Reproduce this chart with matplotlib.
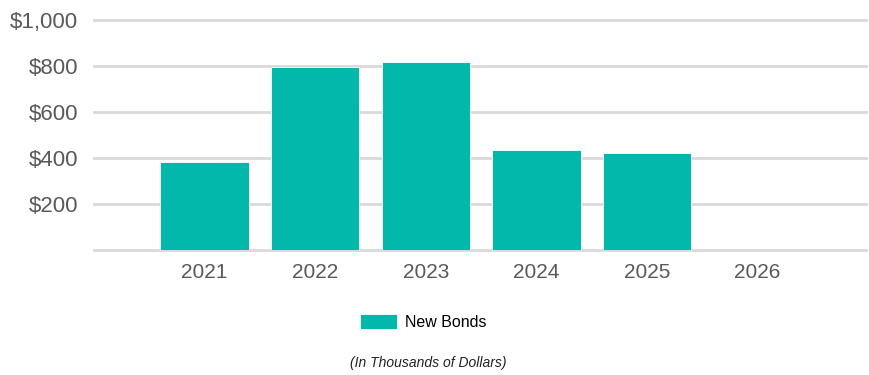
"""New bonds issued per year, bar chart."""

import matplotlib.pyplot as plt
from matplotlib.ticker import FuncFormatter

years = ["2021", "2022", "2023", "2024", "2025", "2026"]
new_bonds = [384, 796, 817, 433, 423, 0]
y_ticks = [0, 200, 400, 600, 800, 1000]

BAR = "#02B8AB"
GRID = "#D9D9D9"
TEXT = "#595959"

plt.rcParams["font.family"] = ["Liberation Sans", "DejaVu Sans"]


def money(value, pos):
    """Format tick values as $1,000 and skip the zero line."""
    if value == 0:
        return ""
    return f"${int(value):,}"


fig = plt.figure(figsize=(8.69, 3.75), dpi=100)
ax = fig.add_axes([94 / 869, 1 - 250 / 375, (866 - 94) / 869, 230 / 375])

x = range(len(years))
ax.bar(x, new_bonds, width=0.8, color=BAR, edgecolor="white", linewidth=0.6,
       label="New Bonds", zorder=3)

ax.set_xlim(-1.0, 5.98)
ax.set_ylim(0, 1000)
ax.set_yticks(y_ticks)
ax.yaxis.set_major_formatter(FuncFormatter(money))
ax.set_xticks(list(x))
ax.set_xticklabels(years)

ax.grid(True, axis="y", color=GRID, linewidth=2, zorder=0)
for gl in ax.get_ygridlines():
    gl.set_clip_on(False)
ax.set_axisbelow(True)
for side in ax.spines.values():
    side.set_visible(False)
ax.tick_params(axis="both", length=0, colors=TEXT)
ax.tick_params(axis="y", labelsize=16, pad=11.5)
ax.tick_params(axis="x", labelsize=15, pad=9.5)
for lbl in ax.get_xticklabels() + ax.get_yticklabels():
    lbl.set_color(TEXT)

fig.legend(loc="center", bbox_to_anchor=(0.487, 1 - 322 / 375), frameon=False,
           fontsize=11.5, handlelength=2.3, handleheight=1.1, handletextpad=0.5)

fig.text(0.493, 1 - 363 / 375, "(In Thousands of Dollars)", ha="center",
         va="center", fontsize=10, style="italic", color="#222222")

plt.savefig("out.png", dpi=100)
plt.close()
